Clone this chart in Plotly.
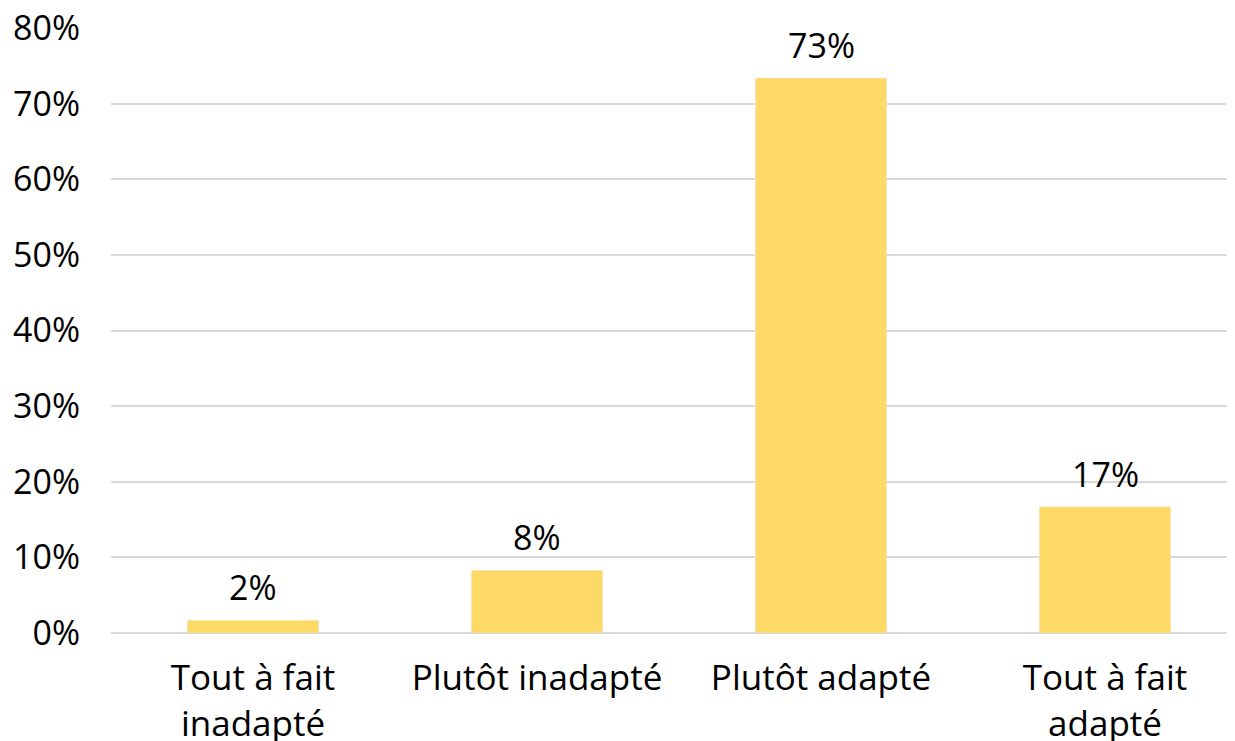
import plotly.graph_objects as go

categories = ["Tout à fait<br>inadapté", "Plutôt inadapté", "Plutôt adapté", "Tout à fait<br>adapté"]
shares = [0.017, 0.083, 0.734, 0.167]
labels = ["2%", "8%", "73%", "17%"]
y_ticks = [0, 0.1, 0.2, 0.3, 0.4, 0.5, 0.6, 0.7, 0.8]
y_ticktext = ["0%", "10%", "20%", "30%", "40%", "50%", "60%", "70%", "80%"]
bar_color = "#FFD966"
num_font = dict(family="Open Sans", size=34, color="black")

fig = go.Figure()
fig.add_trace(go.Bar(x=categories, y=shares, marker_color=bar_color))

# value labels above the bars, lifted a bit like the original
for c, v, t in zip(categories, shares, labels):
    fig.add_annotation(x=c, y=v, text=t, showarrow=False, yanchor="bottom", yshift=8, font=num_font)

fig.update_layout(
    width=1240, height=741, plot_bgcolor="white", paper_bgcolor="white",
    margin=dict(l=103, r=1, t=20, b=116, autoexpand=False),
    bargap=0.537, showlegend=False,
    font=dict(family="Open Sans", size=35, color="black"),
)
fig.update_yaxes(range=[0, 0.8], tickvals=y_ticks, ticktext=y_ticktext, gridcolor="#d9d9d9", gridwidth=2,
                 zeroline=True, zerolinecolor="#d9d9d9", zerolinewidth=2, ticklabelstandoff=30,
                 tickfont=num_font, automargin=False, ticklabeloverflow="allow")
fig.update_xaxes(showline=False, tickfont=dict(family="Open Sans", size=35), ticklabelstandoff=21,
                 automargin=False)

fig.write_html("out.html")
